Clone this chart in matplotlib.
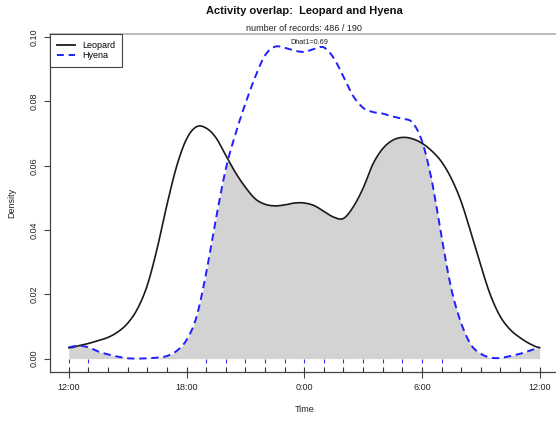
import numpy as np
import matplotlib
matplotlib.use("Agg")
import matplotlib.pyplot as plt
from matplotlib.lines import Line2D

plt.rcParams["font.family"] = ["Liberation Sans", "DejaVu Sans"]

# Clock time in hours on an unwrapped scale (24 = midnight)
hours = np.arange(12.0, 36.01, 0.5)

leopard = [0.0034, 0.0040, 0.0047, 0.0056, 0.0066, 0.0083, 0.0110, 0.0155,
           0.0228, 0.0342, 0.0478, 0.0599, 0.0683, 0.0721, 0.0717, 0.0687,
           0.0632, 0.0578, 0.0533, 0.0497, 0.0480, 0.0475, 0.0478, 0.0484,
           0.0484, 0.0476, 0.0458, 0.0440, 0.0436, 0.0472, 0.0530, 0.0605,
           0.0653, 0.0679, 0.0688, 0.0684, 0.0670, 0.0646, 0.0612, 0.0560,
           0.0488, 0.0391, 0.0289, 0.0196, 0.0130, 0.0090, 0.0065, 0.0046,
           0.0034]

hyena = [0.0035, 0.0040, 0.0035, 0.0022, 0.0013, 0.0006, 0.0001, 0.0000,
         0.0001, 0.0003, 0.0008, 0.0024, 0.0058, 0.0128, 0.0266, 0.0435,
         0.0590, 0.0700, 0.0793, 0.0876, 0.0943, 0.0970, 0.0967, 0.0958,
         0.0954, 0.0963, 0.0968, 0.0935, 0.0877, 0.0816, 0.0780, 0.0767,
         0.0762, 0.0753, 0.0746, 0.0735, 0.0677, 0.0554, 0.0378, 0.0216,
         0.0110, 0.0043, 0.0015, 0.0003, 0.0002, 0.0008, 0.0015, 0.0025,
         0.0035]

# Hours at which records exist (rug marks)
leopard_rug = list(range(12, 37))
hyena_rug = [12, 13] + list(range(19, 32))

tick_pos = [12, 18, 24, 30, 36]
tick_labels = ["12:00", "18:00", "0:00", "6:00", "12:00"]
y_ticks = [0.00, 0.02, 0.04, 0.06, 0.08, 0.10]
y_labels = ["0.00", "0.02", "0.04", "0.06", "0.08", "0.10"]

title = "Activity overlap:  Leopard and Hyena"
subtitle = "number of records: 486 / 190"
dhat_text = "Dhat1=0.69"


def smooth_circular(x, y, steps=12):
    """Catmull-Rom rendering of a circular density through its points."""
    y = np.asarray(y, dtype=float)
    n = len(y)
    # first and last points are the same clock time, wrap tangents around
    prev = np.concatenate([[y[-2]], y[:-1]])
    nxt = np.concatenate([y[1:], [y[1]]])
    m = (nxt - prev) / 2.0
    xs, ys = [], []
    t = np.linspace(0, 1, steps, endpoint=False)
    h00 = 2 * t**3 - 3 * t**2 + 1
    h10 = t**3 - 2 * t**2 + t
    h01 = -2 * t**3 + 3 * t**2
    h11 = t**3 - t**2
    for i in range(n - 1):
        xs.append(x[i] + t * (x[i + 1] - x[i]))
        ys.append(h00 * y[i] + h10 * m[i] + h01 * y[i + 1] + h11 * m[i + 1])
    xs.append([x[-1]])
    ys.append([y[-1]])
    return np.concatenate(xs), np.clip(np.concatenate(ys), 0, None)


W, H = 556, 421
fig = plt.figure(figsize=(W / 100, H / 100), dpi=100)
ax = fig.add_axes([50 / W, 1 - 372 / H, 508.5 / W, (372 - 34.3) / H])

xl, yl = smooth_circular(hours, leopard)
xh, yh = smooth_circular(hours, hyena)

ax.fill_between(xl, 0, np.minimum(yl, yh), color="#d3d3d3", lw=0, zorder=1)
ax.plot(xl, yl, color="#1a1a1a", lw=1.2, zorder=3)
ax.plot(xh, yh, color="#1f1fff", lw=1.4, dashes=(3.8, 2.4), zorder=3)

# rug marks
ax.vlines(hyena_rug, -0.00128, 0.0, color="#3333ff", lw=0.8, zorder=2)
ax.vlines(leopard_rug, 0, 0.014, color="#333333", lw=0.8,
          transform=ax.get_xaxis_transform(), zorder=2)

ax.set_xlim(11.04, 36.96)
ax.set_ylim(-0.00417, 0.10087)

ax.set_xticks(tick_pos)
ax.set_xticklabels(tick_labels)
ax.set_yticks(y_ticks)
ax.set_yticklabels(y_labels, rotation=90, va="center")
ax.tick_params(axis="both", labelsize=6.5, length=4.3, width=0.8,
               color="#444444", labelcolor="#222222")
ax.tick_params(axis="x", pad=3.5)
ax.tick_params(axis="y", pad=4.0)

for side in ("left", "bottom"):
    ax.spines[side].set_color("#444444")
    ax.spines[side].set_linewidth(0.9)
ax.spines["top"].set_color("#b0b0b0")
ax.spines["top"].set_linewidth(1.2)
ax.spines["right"].set_visible(False)

handles = [Line2D([], [], color="#1a1a1a", lw=1.3),
           Line2D([], [], color="#1f1fff", lw=1.4, dashes=(3.5, 2.5))]
leg = ax.legend(handles, ["Leopard", "Hyena"], loc="upper left",
                bbox_to_anchor=(0, 1), borderaxespad=0, fontsize=6.5,
                fancybox=False, framealpha=1, edgecolor="#444444",
                handlelength=2.0, handletextpad=0.8, borderpad=0.75,
                labelspacing=0.15)
leg.get_frame().set_linewidth(0.8)

fig.text(304.3 / W, 1 - 11.5 / H, title, ha="center", va="center",
         fontsize=8, fontweight="bold", color="#111111")
fig.text(304.3 / W, 1 - 28.5 / H, subtitle, ha="center", va="center",
         fontsize=6.5, color="#222222")
fig.text(309 / W, 1 - 42.7 / H, dhat_text, ha="center", va="center",
         fontsize=5.2, color="#222222")
fig.text(304.3 / W, 1 - 410 / H, "Time", ha="center", va="center",
         fontsize=6.5, color="#222222")
fig.text(11.7 / W, 1 - 203 / H, "Density", ha="center", va="center",
         rotation=90, fontsize=6.5, color="#222222")

fig.savefig("out.png", dpi=100)
